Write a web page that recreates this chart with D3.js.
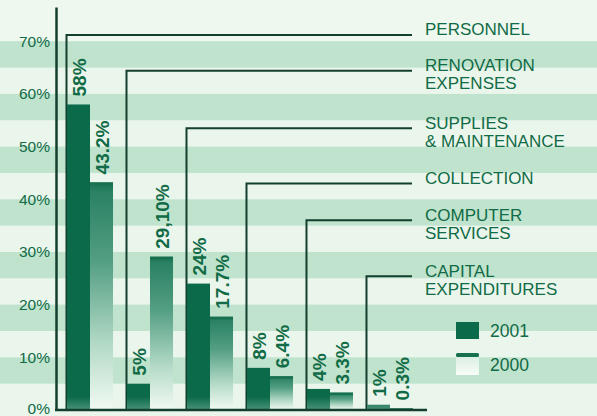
<!DOCTYPE html>
<html>
<head>
<meta charset="utf-8">
<script src="https://cdn.jsdelivr.net/npm/d3@7"></script>
<style>
  html, body { margin: 0; padding: 0; background: #eaf6ec; }
  svg { display: block; }
  text { font-family: "Liberation Sans", Arial, Helvetica, sans-serif; }
</style>
</head>
<body>
<svg id="chart" width="597" height="416"></svg>
<script>
// ---- data ----
const categories = ["PERSONNEL", "RENOVATION EXPENSES", "SUPPLIES & MAINTENANCE", "COLLECTION", "COMPUTER SERVICES", "CAPITAL EXPENDITURES"];
const categoryLines = [["PERSONNEL"], ["RENOVATION", "EXPENSES"], ["SUPPLIES", "& MAINTENANCE"], ["COLLECTION"], ["COMPUTER", "SERVICES"], ["CAPITAL", "EXPENDITURES"]];
const values2001 = [58, 5, 24, 8, 4, 1];
const values2000 = [43.2, 29.1, 17.7, 6.4, 3.3, 0.3];
const labels2001 = ["58%", "5%", "24%", "8%", "4%", "1%"];
const labels2000 = ["43.2%", "29,10%", "17.7%", "6.4%", "3.3%", "0.3%"];
const leaderLevels = [71.2, 64.4, 53.5, 43.0, 36.0, 25.4]; // percent level of each label leader line
const yTicks = [0, 10, 20, 30, 40, 50, 60, 70];
const yTickLabels = ["0%", "10%", "20%", "30%", "40%", "50%", "60%", "70%"];
const seriesNames = ["2001", "2000"];

// ---- styles ----
const W = 597, H = 416;
const dark = "#0b6a4a";
const textCol = "#116b46";
const lineCol = "#133f2e";
const bandCol = "#bfe3cd";
const lightCol = "#eaf6ec";

const svg = d3.select("#chart");

const y = d3.scaleLinear().domain([0, 76.5]).range([410, 7]);
const x = d3.scaleBand().domain(categories).range([55, 425]).paddingInner(0.233).paddingOuter(0.2);
const xs = d3.scaleBand().domain(seriesNames).range([0, x.bandwidth()]);

// defs
const defs = svg.append("defs");
const g2000 = defs.append("linearGradient").attr("id", "g2000").attr("x1", 0).attr("y1", 0).attr("x2", 0).attr("y2", 1);
[[0, "#17704f"], [0.04, "#2a8163"], [0.35, "#549f84"], [0.72, "#b5dbc8"], [1, "#f2faf3"]].forEach(s =>
  g2000.append("stop").attr("offset", s[0]).attr("stop-color", s[1]));
const gLeg = defs.append("linearGradient").attr("id", "gLeg").attr("x1", 0).attr("y1", 0).attr("x2", 0).attr("y2", 1);
[[0, "#d6eddf"], [1, "#f7fcf8"]].forEach(s => gLeg.append("stop").attr("offset", s[0]).attr("stop-color", s[1]));
const g2001 = defs.append("linearGradient").attr("id", "g2001").attr("gradientUnits", "userSpaceOnUse")
  .attr("x1", 0).attr("x2", 0).attr("y1", y(2.5)).attr("y2", y(0));
[[0, dark], [1, "#4a9379"]].forEach(s => g2001.append("stop").attr("offset", s[0]).attr("stop-color", s[1]));

// background
svg.append("rect").attr("x", 0).attr("y", 0).attr("width", W).attr("height", H).attr("fill", lightCol);
svg.append("rect").attr("x", 0).attr("y", 0).attr("width", W).attr("height", y(70)).attr("fill", "#eef8ef");
svg.append("g").selectAll("rect").data(yTicks.filter(d => d > 0)).join("rect")
  .attr("x", 0).attr("width", W)
  .attr("y", d => y(d)).attr("height", d => y(d - 5) - y(d))
  .attr("fill", bandCol);

// leader lines
svg.append("g").selectAll("path").data(categories).join("path")
  .attr("d", (c, i) => `M${x(c) - 0.5},${y(0)} V${y(leaderLevels[i])} H412`)
  .attr("fill", "none").attr("stroke", lineCol).attr("stroke-width", 2);

// category labels
const lab = svg.append("g").selectAll("text").data(categories).join("text")
  .attr("x", 425).attr("y", (c, i) => y(leaderLevels[i]) + 0.5)
  .attr("fill", textCol).attr("font-size", 17);
lab.each(function (c, i) {
  d3.select(this).selectAll("tspan").data(categoryLines[i]).join("tspan")
    .attr("x", 425).attr("dy", (d, j) => j === 0 ? 0 : 18).text(d => d);
});

// bars
svg.append("g").selectAll("rect").data(categories).join("rect")
  .attr("x", c => x(c) + xs("2001")).attr("width", xs.bandwidth())
  .attr("y", (c, i) => y(values2001[i])).attr("height", (c, i) => y(0) - y(values2001[i]))
  .attr("fill", "url(#g2001)");
svg.append("g").selectAll("rect").data(categories).join("rect")
  .attr("x", c => x(c) + xs("2000")).attr("width", xs.bandwidth())
  .attr("y", (c, i) => y(values2000[i])).attr("height", (c, i) => Math.max(1.5, y(0) - y(values2000[i])))
  .attr("fill", "url(#g2000)");
// dark top edge of 2000 bars
svg.append("g").selectAll("rect").data(categories).join("rect")
  .attr("x", c => x(c) + xs("2000")).attr("width", xs.bandwidth())
  .attr("y", (c, i) => y(values2000[i])).attr("height", 2.5)
  .attr("fill", "#17704f");

// value labels
function valueLabels(vals, labels, key) {
  svg.append("g").selectAll("text").data(categories).join("text")
    .attr("transform", (c, i) => `translate(${x(c) + xs(key) + xs.bandwidth() / 2 + 0.5},${y(vals[i]) - 8}) rotate(-90)`)
    .attr("dy", "0.36em")
    .attr("fill", textCol).attr("font-size", 19).attr("font-weight", "bold")
    .text((c, i) => labels[i]);
}
valueLabels(values2001, labels2001, "2001");
valueLabels(values2000, labels2000, "2000");

// axes
const yAxis = d3.axisLeft(y).tickValues(yTicks).tickSize(0).tickPadding(6)
  .tickFormat((d, i) => yTickLabels[i]);
const ga = svg.append("g").attr("transform", "translate(56,0)").call(yAxis);
ga.select(".domain").attr("stroke", lineCol).attr("stroke-width", 2.5);
ga.selectAll("text").attr("fill", textCol).attr("font-size", 15.5)
  .attr("font-family", "'Liberation Sans', Arial, sans-serif");
ga.selectAll(".tick").filter(d => d === 0).select("text").attr("dy", "0.2em");

svg.append("line").attr("x1", 55).attr("x2", 427).attr("y1", y(0)).attr("y2", y(0))
  .attr("stroke", lineCol).attr("stroke-width", 2.5);

// legend
const leg = svg.append("g");
leg.append("rect").attr("x", 456).attr("y", 322).attr("width", 23).attr("height", 17).attr("fill", dark);
leg.append("rect").attr("x", 456).attr("y", 353).attr("width", 23).attr("height", 22).attr("fill", "url(#gLeg)");
leg.append("rect").attr("x", 456).attr("y", 353).attr("width", 23).attr("height", 4).attr("rx", 1.5).attr("fill", "#17704f");
leg.selectAll("text.lt").data(seriesNames).join("text").attr("class", "lt")
  .attr("x", 490).attr("y", (d, i) => i === 0 ? 337 : 371)
  .attr("fill", textCol).attr("font-size", 17.5).text(d => d);
</script>
</body>
</html>
